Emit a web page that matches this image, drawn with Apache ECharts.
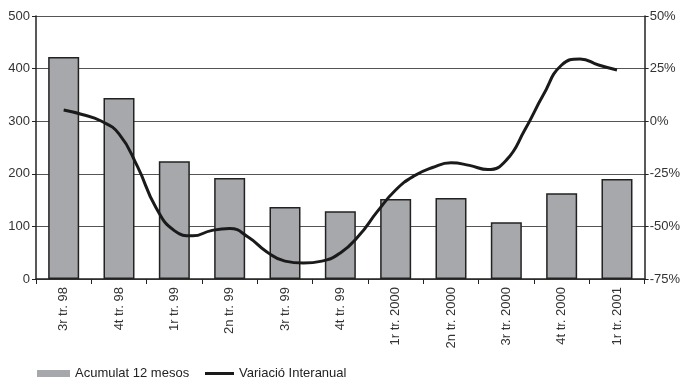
<!DOCTYPE html>
<html>
<head>
<meta charset="utf-8">
<script src="https://cdn.jsdelivr.net/npm/echarts@6/dist/echarts.min.js"></script>
<style>
  html, body { margin: 0; padding: 0; background: #fff; }
  #chart { width: 683px; height: 383px; }
</style>
</head>
<body>
<div id="chart"></div>
<script>
// trimestres
let quarters = ['3r tr. 98', '4t tr. 98', '1r tr. 99', '2n tr. 99', '3r tr. 99', '4t tr. 99',
    '1r tr. 2000', '2n tr. 2000', '3r tr. 2000', '4t tr. 2000', '1r tr. 2001'];

// acumulat 12 mesos (barres)
let accumulated = [422, 344, 224, 192, 137, 129, 152, 154, 108, 163, 190];

// variació interanual, un punt per mes (posició en trimestres des de 3r tr. 98)
let variationPos = [0, 0.333, 0.667, 1, 1.333, 1.667, 2, 2.333, 2.667, 3, 3.333, 3.667,
    4, 4.333, 4.667, 5, 5.333, 5.667, 6, 6.333, 6.667, 7, 7.333, 7.667,
    8, 8.333, 8.667, 9, 9.333, 9.667, 10];
let variation = [5.3, 3.2, 0.2, -6, -21.5, -41, -52, -54.5, -52, -51, -55, -62,
    -66.5, -67.4, -66.5, -62.6, -54.5, -43, -32.7, -26, -22, -19.8, -21, -23,
    -18.5, -4.2, 12.4, 26.7, 29.6, 26.7, 24.3];

let leftTicks = { min: 0, max: 500, interval: 100 };
let rightTicks = { min: -75, max: 50, interval: 25 };

let chart = echarts.init(document.getElementById('chart'));

let lineData = variationPos.map(function (p, i) {
    return [p, variation[i]];
});

let font = 'Liberation Sans, Arial, sans-serif';
let legendText = { fontSize: 13, color: '#222', fontFamily: font };

let option = {
    animation: false,
    textStyle: { fontFamily: font },
    grid: {
        left: 36,
        right: 36,
        top: 16,
        bottom: 104
    },
    legend: [{
        left: 37,
        top: 367,
        padding: 0,
        textStyle: legendText,
        data: [{ name: 'Acumulat 12 mesos', icon: 'rect', itemStyle: { borderWidth: 0 } }],
        itemWidth: 33,
        itemHeight: 7
    }, {
        left: 205,
        top: 367,
        padding: 0,
        textStyle: legendText,
        data: [{ name: 'Variació Interanual', icon: 'rect' }],
        itemWidth: 29,
        itemHeight: 3
    }],
    xAxis: [{
        type: 'category',
        data: quarters,
        axisLine: { onZero: false, lineStyle: { color: '#222', width: 1.5 } },
        axisTick: { show: true, length: 5, lineStyle: { color: '#222' } },
        axisLabel: {
            rotate: 90,
            color: '#333',
            fontSize: 13,
            margin: 8,
            interval: 0
        }
    }, {
        type: 'value',
        min: -0.5,
        max: 10.5,
        show: false
    }],
    yAxis: [{
        type: 'value',
        min: leftTicks.min,
        max: leftTicks.max,
        interval: leftTicks.interval,
        axisLine: { show: true, onZero: false, lineStyle: { color: '#222', width: 1.5 } },
        axisTick: { show: true, length: 4, lineStyle: { color: '#222' } },
        axisLabel: { color: '#333', fontSize: 13, margin: 6 },
        splitLine: { show: true, lineStyle: { color: '#555', width: 1.2 } }
    }, {
        type: 'value',
        min: rightTicks.min,
        max: rightTicks.max,
        interval: rightTicks.interval,
        axisLine: { show: true, onZero: false, lineStyle: { color: '#222', width: 1.5 } },
        axisTick: { show: true, length: 4, lineStyle: { color: '#222' } },
        axisLabel: { color: '#333', fontSize: 13, margin: 5, formatter: '{value}%' },
        splitLine: { show: false }
    }],
    series: [{
        name: 'Acumulat 12 mesos',
        type: 'bar',
        data: accumulated,
        barWidth: 31,
        itemStyle: {
            color: '#a7a8ab',
            borderColor: '#222',
            borderWidth: 1.5
        }
    }, {
        name: 'Variació Interanual',
        type: 'line',
        xAxisIndex: 1,
        yAxisIndex: 1,
        data: lineData,
        smooth: true,
        symbol: 'none',
        itemStyle: { color: '#1a1a1a' },
        lineStyle: { color: '#1a1a1a', width: 3 }
    }]
};

chart.setOption(option);
</script>
</body>
</html>
